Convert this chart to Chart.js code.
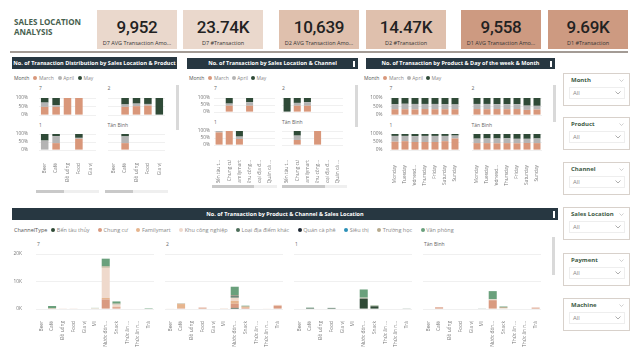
<!DOCTYPE html>
<html><head><meta charset="utf-8">
<script src="https://cdn.jsdelivr.net/npm/chart.js@4.4.1/dist/chart.umd.min.js"></script>
<style>
html,body{margin:0;padding:0;background:#fff;width:642px;height:361px;overflow:hidden;font-family:'Open Sans',sans-serif;}
.abs{position:absolute;}
.txt{position:absolute;white-space:nowrap;line-height:6px;font-size:5px;color:#666;}
.bar{position:absolute;background:#273741;color:#fff;font-weight:700;font-size:5.5px;text-align:center;white-space:nowrap;}
.kpi{position:absolute;top:10px;width:80px;height:39px;}
.kpi .v{position:absolute;left:0;right:0;top:9px;text-align:center;font:500 17px Roboto,sans-serif;letter-spacing:-0.3px;line-height:17px;color:#222;}
.kpi .l{position:absolute;left:0;right:0;top:30px;text-align:center;font-size:5.5px;line-height:6px;color:#333;white-space:nowrap;}
.dot{display:inline-block;width:4px;height:4px;border-radius:50%;margin-right:1.5px;vertical-align:middle;position:relative;top:-0.5px;}
.leg{position:absolute;display:flex;align-items:center;white-space:nowrap;font-size:5px;line-height:6px;color:#888;}
.leg .t{color:#555;margin-right:4px;}
.fbox{position:absolute;left:563px;width:65px;height:31px;border:1.5px solid #d8d1cb;}
.fbox .n{position:absolute;left:7px;top:3px;font-size:6px;line-height:6px;font-weight:700;color:#3e5b46;white-space:nowrap;}
.fbox .dd{position:absolute;left:5px;top:13px;width:54px;height:10px;border:1px solid #eeeeee;}
.fbox .all{position:absolute;left:3px;top:2px;font-size:6px;line-height:6px;color:#888;}
</style>
</head><body>
<script>
// ---------------- DATA ----------------
const kpiValues = ['9,952','23.74K','10,639','14.47K','9,558','9.69K'];
const kpiLabels = ['D7 AVG Transaction Amo...','D7 #Transaction','D2 AVG Transaction Amo...','D2 #Transaction','D1 AVG Transaction Amo...','D1 #Transaction'];
const filterNames = ['Month','Product','Channel','Sales Location','Payment','Machine'];
const locations = ['7','2','1','Tân Bình'];
const months = ['March','April','May'];
const pctTicks = [0, 50, 100];

// Panel 1: Sales Location & Product (100% stacked, March/April/May)
const productsTop = ['Beer','Café','Đồ uống','Food','Gia vị'];
const prodLoc7  = [[48,48,100,100,null],[25,10,null,null,null],[27,42,null,null,null]];
const prodLoc2  = [[null,48,52,55,null],[null,14,15,10,null],[null,38,33,35,100]];
const prodLoc1  = [[null,43,null,70,null],[59,44,null,6,null],[41,13,null,24,null]];
const prodLocTB = [[null,43,null,null,null],[null,42,null,null,null],[null,15,null,null,null]];

// Panel 2: Sales Location & Channel
const channelsTop = ['Bến tàu t...','Chung cư','Familymart','Khu công...','Loại địa đ...','Quán cà ...'];
const chanLoc7  = [[null,45,null,45,null,null],[null,15,null,25,null,null],[null,40,null,30,null,null]];
const chanLoc2  = [[null,45,45,null,null,null],[null,20,25,null,null,null],[100,35,30,null,null,null]];
const chanLoc1  = [[90,100,43,null,null,null],[10,null,17,null,null,null],[null,null,40,null,null,null]];
const chanLocTB = [[null,36,null,100,null,null],[null,31,null,null,null,null],[null,33,null,null,null,null]];

// Panel 3: Day of week & Month
const days = ['Monday','Tuesday','Wednesd...','Thursday','Friday','Saturday','Sunday'];
const dayLoc7  = [[34,34,33,35,34,34,34],[30,32,32,30,31,30,28],[36,34,35,35,35,36,38]];
const dayLoc2  = [[35,34,35,34,35,30,32],[30,31,29,30,29,25,22],[35,35,36,36,36,45,46]];
const dayLoc1  = [[52,55,50,50,50,55,72],[36,33,37,38,38,33,18],[12,12,13,12,12,12,10]];
const dayLocTB = [[43,43,42,43,42,44,43],[28,29,30,30,28,26,29],[29,28,28,27,30,30,28]];

// Bottom: Product & Channel & Sales Location (stacked counts)
const products = ['Beer','Café','Đồ uống','Food','Gia vị','Mì','Nước đón...','Snack','Thức ăn ...','Thức ăn n...','Trà'];
const channelTypes = ['Bến tàu thủy','Chung cư','Familymart','Khu công nghiệp','Loại địa điểm khác','Quán cà phê','Siêu thị','Trường học','Văn phòng'];
const countTicks = [0, 10000, 20000];
const chanProd7 = [
  [0,0,0,0,0,0,0,150,0,0,0],
  [0,0,0,0,0,0,3500,500,0,0,0],
  [0,0,0,0,0,0,500,200,0,0,0],
  [150,100,50,50,0,300,11000,800,0,0,0],
  [0,0,0,0,0,0,0,100,0,0,0],
  [0,0,0,0,0,0,0,0,0,0,0],
  [0,0,0,0,0,0,0,0,0,0,0],
  [0,200,0,0,0,0,500,200,0,0,0],
  [0,800,0,0,0,100,2800,800,0,0,300]];
const chanProd2 = [
  [0,0,0,0,0,0,400,0,0,0,0],
  [0,300,0,500,0,0,1500,400,0,0,1200],
  [0,1500,0,0,0,0,1000,300,0,0,0],
  [100,0,0,0,0,300,1200,0,0,200,300],
  [0,0,0,0,0,0,500,0,0,0,0],
  [0,0,0,0,0,0,200,0,0,0,0],
  [0,0,0,0,0,0,0,0,0,0,0],
  [0,200,0,0,0,0,300,300,0,0,0],
  [0,0,0,0,0,0,3000,200,0,0,0]];
const chanProd1 = [
  [0,0,0,0,0,0,3800,1000,0,0,0],
  [0,0,0,0,0,0,0,0,0,0,0],
  [0,0,0,0,0,0,0,0,0,0,0],
  [0,0,0,0,0,0,300,200,0,0,0],
  [0,400,0,400,0,0,0,0,0,0,200],
  [0,0,0,0,0,0,0,0,0,0,0],
  [0,0,0,0,0,0,0,0,0,0,0],
  [0,0,0,0,0,0,0,0,0,0,0],
  [0,100,0,0,0,0,3000,200,0,0,0]];
const chanProdTB = [
  [0,0,0,0,0,0,0,0,0,0,0],
  [0,600,0,0,0,0,3200,0,0,0,500],
  [0,0,0,0,0,0,0,0,0,0,0],
  [0,0,0,0,0,0,300,300,0,0,0],
  [0,0,0,0,0,100,0,0,0,0,0],
  [0,0,0,0,0,0,0,0,0,0,0],
  [0,0,0,0,0,0,0,0,0,0,0],
  [0,0,0,0,0,0,0,400,0,0,0],
  [0,0,0,0,0,0,3000,200,0,0,0]];

// ---------------- STYLE ----------------
const monthColors = ['#d9977a','#b4b4b4','#2f4a37'];
const channelColors = ['#2f4a36','#d99a80','#e6b58e','#efd9cc','#4d6e5a','#1e2833','#2c90b8','#b7ab8e','#6aa07c'];
const FONT = 'Open Sans';
const TICK = 4.8;

function el(cls, css, html) {
  const d = document.createElement('div');
  d.className = cls; d.style.cssText = css || '';
  if (html !== undefined) d.innerHTML = html;
  document.body.appendChild(d);
  return d;
}

// ---------------- HEADER ----------------
el('abs','left:14px;top:17px;font:700 8px "Open Sans";line-height:9.5px;color:#46604e;','SALES LOCATION<br>ANALYSIS');
el('abs','left:10px;top:51px;width:618px;height:2px;background:#a39b95;');
const kpiX = [97,183,279,366,461,548];
const kpiBg = ['#ead8cc','#ead8cc','#dfc0ad','#dfc0ad','#cd9a81','#cd9a81'];
kpiValues.forEach((v,i)=>{
  const k = el('kpi','left:'+kpiX[i]+'px;background:'+kpiBg[i]+';');
  k.innerHTML = '<div class="v">'+v+'</div><div class="l">'+kpiLabels[i]+'</div>';
});

// ---------------- PANEL FRAMES ----------------
function titleBar(x,y,w,h,text,icon){
  el('bar','left:'+x+'px;top:'+y+'px;width:'+w+'px;height:'+h+'px;line-height:'+h+'px;',text);
  if (icon) el('abs','left:'+(x+w-5)+'px;top:'+(y+2.5)+'px;width:2px;height:'+(h-5)+'px;background:#fff;');
}
titleBar(12,57,165,12,'No. of Transaction Distribution by Sales Location &amp; Product',false);
titleBar(187,58,171,11,'No. of Transaction by Sales Location &amp; Channel',true);
titleBar(366,58,189,11,'No. of Transaction by Product &amp; Day of the week &amp; Month',true);
titleBar(12,208,546,12,'No. of Transaction by Product &amp; Channel &amp; Sales Location',true);

function legend(x,y,title,names,colors,gap,size){
  let h = '<span class="t">'+title+'</span>';
  names.forEach((n,i)=>{ h += '<span style="margin-right:'+gap+'px"><span class="dot" style="background:'+colors[i]+'"></span>'+n+'</span>'; });
  el('leg','left:'+x+'px;top:'+(y-3)+'px;font-size:'+size+'px;',h);
}
legend(14,78,'Month',months,monthColors,4,5);
legend(189,78,'Month',months,monthColors,3,5);
legend(364,78,'Month',months,monthColors,3,5);
legend(14,230,'ChannelType',channelTypes,channelColors,8.5,5.5);

// scrollbars
function sb(x,y,w,h,c){ el('abs','left:'+x+'px;top:'+y+'px;width:'+w+'px;height:'+h+'px;background:'+c+';'); }
sb(176,85,3,45,'#d9d9d9'); sb(355,85,3,42,'#d9d9d9'); sb(553,85,3,37,'#d9d9d9'); sb(552,237,3,38,'#d9d9d9');
sb(36,190,28,3,'#c9c9c9'); sb(64,190,35,3,'#efefef'); sb(105,190,28,3,'#c9c9c9'); sb(133,190,35,3,'#efefef');
sb(212,185,42,3,'#c9c9c9'); sb(254,185,23,3,'#efefef'); sb(282,185,43,3,'#c9c9c9'); sb(325,185,22,3,'#efefef');

// ---------------- CHARTS ----------------
function barChart(area, labels, series, names, colors, o) {
  const yW = o.showY ? o.yW : 0, xH = o.showX ? o.xH : 0;
  const pT = 4, pR = 3, pL = o.showY ? 0 : 2, pB = o.showX ? 0 : 2;
  const left = area.x - (o.showY ? yW : pL);
  const top = area.y - pT;
  const width = area.w + (o.showY ? yW : pL) + pR;
  const height = area.h + pT + (o.showX ? xH : pB);
  const div = el('abs','left:'+left+'px;top:'+top+'px;width:'+width+'px;height:'+height+'px;');
  const cv = document.createElement('canvas'); div.appendChild(cv);
  const zero = s => { s.paddingLeft = 0; s.paddingRight = 0; s.paddingTop = 0; s.paddingBottom = 0; };
  new Chart(cv, {
    type: 'bar',
    data: { labels: labels, datasets: series.map((d,i)=>({label:names[i], data:d, backgroundColor:colors[i], borderWidth:0, barPercentage:o.bp, categoryPercentage:1})) },
    options: {
      responsive:true, maintainAspectRatio:false, animation:false, devicePixelRatio:1,
      layout:{padding:{left:pL, right:pR, top:pT, bottom:pB}},
      plugins:{legend:{display:false}, tooltip:{enabled:false}, title:{display:false}},
      scales:{
        x:{stacked:true, grid:{display:false}, border:{display:false},
           ticks:{display:!!o.showX, autoSkip:false, minRotation:90, maxRotation:90, color:'#777', font:{family:FONT,size:TICK}, padding:o.xPad},
           afterFit:s=>{ s.height = xH; zero(s); }},
        y:{stacked:true, min:o.ticks[0], max:o.ticks[o.ticks.length-1], border:{display:false},
           grid:{color:'#ececec', lineWidth:0.8, drawTicks:false},
           afterBuildTicks:s=>{ s.ticks = o.ticks.map(v=>({value:v})); },
           ticks:{display:!!o.showY, autoSkip:false, callback:o.fmt, color:'#777', font:{family:FONT,size:TICK}, padding:o.yPad},
           afterFit:s=>{ s.width = yW; zero(s); }}
      }
    }
  });
}
function subLabel(x,y,t){ el('txt','left:'+x+'px;top:'+(y-3)+'px;',t); }
const pct = v => v + '%';
const kfmt = v => (v/1000) + 'K';

function grid4(data, labels, cols, rows, colW, o) {
  // data order: 7, 2, 1, Tân Bình
  data.forEach((d,i)=>{
    const c = i % 2, r = Math.floor(i/2);
    barChart({x:cols[c], y:rows[r].y, w:colW, h:rows[r].h}, labels, d, months, monthColors,
      Object.assign({}, o, {showY: c===0, showX: r===1}));
    subLabel(cols[c], rows[r].lab, locations[i]);
  });
}
grid4([prodLoc7, prodLoc2, prodLoc1, prodLocTB], productsTop, [39,107.5],
  [{y:98,h:17,lab:88},{y:133.5,h:16,lab:125}], 57,
  {yW:25, yPad:11, xH:36, xPad:5, bp:0.66, ticks:pctTicks, fmt:pct});
grid4([chanLoc7, chanLoc2, chanLoc1, chanLocTB], channelsTop, [214,282],
  [{y:98,h:14,lab:88},{y:131,h:14,lab:122}], 61,
  {yW:18, yPad:4, xH:38, xPad:7, bp:0.69, ticks:pctTicks, fmt:pct});
grid4([dayLoc7, dayLoc2, dayLoc1, dayLocTB], days, [389.5,471.5],
  [{y:98,h:17,lab:88},{y:134,h:16,lab:125}], 70,
  {yW:22, yPad:7.5, xH:36, xPad:7, bp:0.7, ticks:pctTicks, fmt:pct});

// bottom small multiples
const bottomCols = [36,165,294,423];
[chanProd7, chanProd2, chanProd1, chanProdTB].forEach((d,i)=>{
  barChart({x:bottomCols[i], y:254, w:118, h:55}, products, d, channelTypes, channelColors,
    {showY:i===0, showX:true, yW:24, yPad:14, xH:48, xPad:4, bp:0.75, ticks:countTicks, fmt:kfmt});
  subLabel(bottomCols[i]+1, 244, locations[i]);
});

// ---------------- FILTERS ----------------
const filterTops = [73,117,162,207,253,298];
const chev = '<svg width="6" height="4" style="position:absolute;right:3px;top:3px"><polyline points="0.5,0.5 3,3 5.5,0.5" fill="none" stroke="#999" stroke-width="0.8"/></svg>';
filterNames.forEach((n,i)=>{
  const b = el('fbox','top:'+filterTops[i]+'px;');
  b.innerHTML = '<div class="n">'+n+'</div>' +
    '<svg width="5" height="3" style="position:absolute;right:5px;top:5px"><polyline points="0.5,0.5 2.5,2.5 4.5,0.5" fill="none" stroke="#bbb" stroke-width="0.7"/></svg>' +
    '<div class="dd"><div class="all">All</div>'+chev+'</div>';
});
</script>
</body></html>
